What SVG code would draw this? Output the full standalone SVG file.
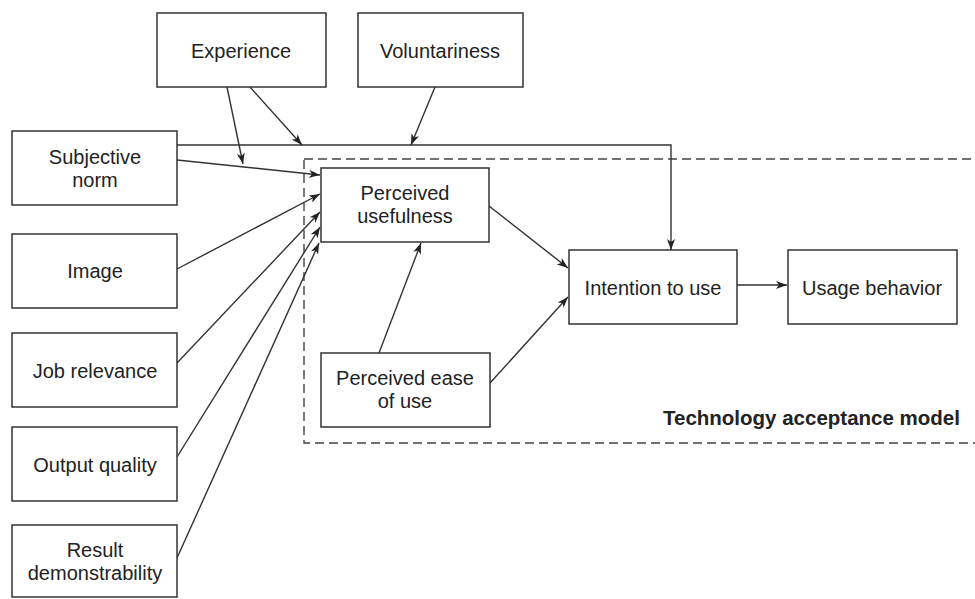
<svg xmlns="http://www.w3.org/2000/svg" width="975" height="599" viewBox="0 0 975 599">
<defs>
<style>
.box{fill:#fff;stroke:#333;stroke-width:1.5}
.t{font-family:"Liberation Sans",Arial,sans-serif;font-size:20px;fill:#222;text-anchor:middle}
.tb{font-family:"Liberation Sans",Arial,sans-serif;font-size:20.5px;font-weight:bold;fill:#222}
.c{fill:none;stroke:#333;stroke-width:1.4}
.a{marker-end:url(#ah)}
</style>
<marker id="ah" markerUnits="userSpaceOnUse" markerWidth="12" markerHeight="8" refX="11" refY="4" orient="auto">
<path d="M0,0 L11,4 L0,8 L3,4 Z" fill="#222"/>
</marker>
</defs>
<rect width="975" height="599" fill="#fff"/>
<g id="tam-frame">
<rect x="304" y="159" width="680" height="284" fill="none" stroke="#444" stroke-width="1.4" stroke-dasharray="9,5"/>
<text class="tb" x="663" y="425">Technology acceptance model</text>
</g>
<g id="connectors">
<path class="c a" d="M177,145 H671 V250"/>
<path class="c a" d="M227,87 L243,164"/>
<path class="c a" d="M250,87 L302,145"/>
<path class="c a" d="M435,87 L411,145"/>
<path class="c a" d="M177,160 L320,175"/>
<path class="c a" d="M177,269 L320,194"/>
<path class="c a" d="M177,363 L320,212"/>
<path class="c a" d="M177,457 L320,227"/>
<path class="c a" d="M177,558 L319,243"/>
<path class="c a" d="M379,353 L421,243"/>
<path class="c a" d="M489,206 L568,268"/>
<path class="c a" d="M490,383 L568,297"/>
<path class="c a" d="M737,285 L787,285"/>
</g>
<g id="experience"><rect class="box" x="157" y="13" width="169" height="74"/><text class="t" x="241" y="58">Experience</text></g>
<g id="voluntariness"><rect class="box" x="358" y="13" width="165" height="74"/><text class="t" x="440" y="58">Voluntariness</text></g>
<g id="subjective-norm"><rect class="box" x="12" y="131" width="165" height="74"/><text class="t" x="95" y="164">Subjective</text><text class="t" x="95" y="187">norm</text></g>
<g id="image"><rect class="box" x="12" y="234" width="165" height="74"/><text class="t" x="95" y="278">Image</text></g>
<g id="job-relevance"><rect class="box" x="12" y="333" width="165" height="74"/><text class="t" x="95" y="378">Job relevance</text></g>
<g id="output-quality"><rect class="box" x="12" y="427" width="165" height="74"/><text class="t" x="95" y="472">Output quality</text></g>
<g id="result-demonstrability"><rect class="box" x="12" y="525" width="165" height="72"/><text class="t" x="95" y="557">Result</text><text class="t" x="95" y="580">demonstrability</text></g>
<g id="perceived-usefulness"><rect class="box" x="321" y="168" width="168" height="74"/><text class="t" x="405" y="200">Perceived</text><text class="t" x="405" y="223">usefulness</text></g>
<g id="perceived-ease-of-use"><rect class="box" x="321" y="353" width="169" height="74"/><text class="t" x="405" y="385">Perceived ease</text><text class="t" x="405" y="408">of use</text></g>
<g id="intention-to-use"><rect class="box" x="569" y="250" width="168" height="74"/><text class="t" x="653" y="295">Intention to use</text></g>
<g id="usage-behavior"><rect class="box" x="788" y="250" width="169" height="74"/><text class="t" x="872" y="295">Usage behavior</text></g>
</svg>
